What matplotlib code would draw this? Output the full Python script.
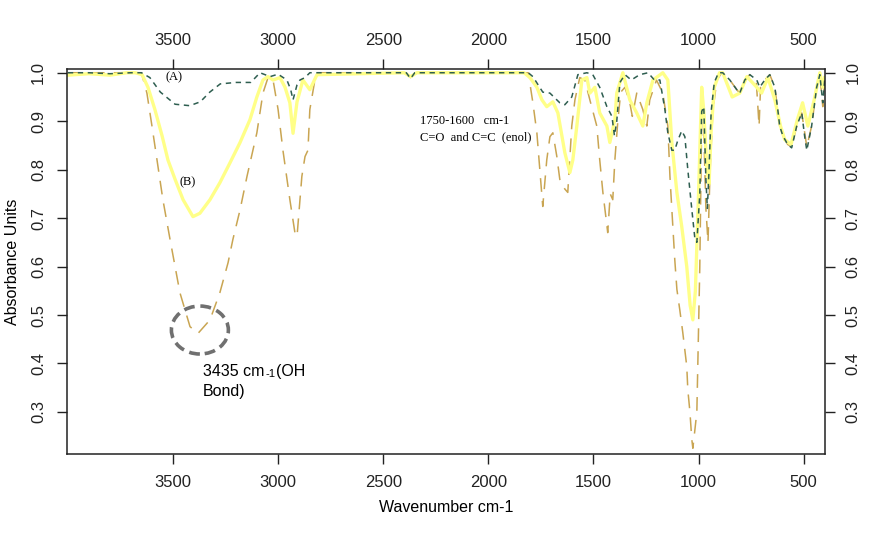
import numpy as np
import matplotlib
matplotlib.use("Agg")
import matplotlib.pyplot as plt
from matplotlib.patches import Ellipse
from matplotlib.transforms import offset_copy

# Spectrum (A): dark dashed
wn_a = [4000, 3900, 3800, 3700, 3650, 3610, 3560, 3490, 3420, 3370, 3325, 3275,
        3200, 3130, 3086, 3038, 3000, 2958, 2940, 2929, 2910, 2896, 2872, 2849,
        2500, 2390, 2370, 2350, 2000, 1810, 1788, 1741, 1707, 1660, 1636, 1603,
        1574, 1531, 1503, 1470, 1436, 1412, 1400, 1389, 1374, 1350, 1320, 1280,
        1240, 1210, 1184, 1160, 1146, 1127, 1113, 1099, 1080, 1065, 1051, 1032,
        1018, 1008, 994, 985, 975, 965, 958, 950, 940, 925, 905, 885, 851, 818,
        804, 780, 756, 723, 709, 685, 661, 637, 623, 614, 599, 576, 557, 533,
        509, 495, 485, 462, 438, 423, 409, 400]
abs_a = [1.0, 1.0, 0.998, 1.0, 1.0, 0.99, 0.96, 0.935, 0.932, 0.94, 0.96, 0.977,
         0.98, 0.98, 1.0, 0.992, 0.997, 0.985, 0.965, 0.944, 0.975, 0.985, 0.99, 1.0,
         1.0, 1.0, 0.988, 1.0, 1.0, 1.0, 0.992, 0.96, 0.958, 0.938, 0.934, 0.95,
         0.996, 1.0, 0.996, 0.97, 0.93, 0.91, 0.87, 0.90, 0.98, 0.996, 0.985, 0.996,
         1.0, 0.985, 0.985, 0.924, 0.876, 0.84, 0.84, 0.86, 0.88, 0.868, 0.80, 0.718,
         0.66, 0.65, 0.75, 0.92, 0.93, 0.78, 0.72, 0.80, 0.92, 0.98, 1.0, 1.0, 0.985, 0.965,
         0.958, 0.985, 0.996, 0.985, 0.97, 0.985, 0.996, 0.97, 0.924, 0.89, 0.87, 0.852, 0.845, 0.89,
         0.917, 0.868, 0.84, 0.89, 0.97, 0.996, 0.938, 0.985]

# Spectrum (B): yellow solid
wn_b = [4000, 3900, 3800, 3720, 3680, 3647, 3619, 3586, 3552, 3524, 3490, 3452,
        3405, 3372, 3324, 3277, 3229, 3181, 3134, 3101, 3072, 3048, 3024, 2991,
        2967, 2944, 2929, 2910, 2882, 2849, 2815, 2400, 2370, 2340, 1830, 1802,
        1769, 1745, 1722, 1693, 1669, 1636, 1612, 1598, 1579, 1555, 1531, 1517,
        1493, 1470, 1436, 1422, 1398, 1389, 1360, 1327, 1294, 1265, 1246, 1217,
        1170, 1146, 1127, 1103, 1080, 1056, 1040, 1027, 1015, 1000, 985, 975,
        960, 950, 940, 925, 900, 885, 840, 804, 770, 723, 700, 670, 637, 610,
        590, 560, 530, 505, 480, 450, 423, 409, 400]
abs_b = [0.995, 0.998, 0.995, 1.0, 1.0, 0.996, 0.97, 0.924, 0.87, 0.82, 0.78, 0.738,
         0.703, 0.71, 0.738, 0.773, 0.814, 0.856, 0.903, 0.95, 0.985, 0.992, 0.985, 0.99,
         0.97, 0.938, 0.875, 0.94, 0.985, 0.965, 0.996, 1.0, 0.992, 1.0, 1.0, 0.99,
         0.97, 0.944, 0.93, 0.94, 0.917, 0.835, 0.794, 0.82, 0.89, 0.985, 0.99, 0.958,
         0.97, 0.917, 0.89, 0.856, 0.903, 0.958, 1.0, 0.944, 0.917, 0.89, 0.938, 0.985,
         1.0, 0.985, 0.856, 0.753, 0.683, 0.60, 0.52, 0.49, 0.55, 0.75, 0.97, 0.92,
         0.80, 0.77, 0.88, 0.97, 1.0, 1.0, 0.95, 0.958, 0.992, 0.97, 0.958, 0.99, 0.944, 0.89,
         0.862, 0.852, 0.903, 0.938, 0.89, 0.944, 1.0, 0.97, 0.99]

# Spectrum (C): tan long dashes
wn_c = [4000, 3900, 3800, 3700, 3650, 3624, 3600, 3576, 3548, 3514, 3467, 3419,
        3381, 3324, 3277, 3238, 3215, 3181, 3148, 3101, 3072, 3048, 3024, 3000,
        2977, 2944, 2920, 2910, 2887, 2872, 2858, 2849, 2825, 2810, 2400, 2370,
        2340, 1830, 1810, 1788, 1769, 1755, 1741, 1722, 1707, 1693, 1674, 1660,
        1636, 1622, 1603, 1588, 1565, 1541, 1517, 1484, 1470, 1455, 1441, 1432,
        1420, 1408, 1398, 1384, 1370, 1350, 1327, 1315, 1294, 1265, 1246, 1232,
        1200, 1170, 1146, 1136, 1127, 1113, 1103, 1089, 1075, 1056, 1051, 1041,
        1032, 1027, 1008, 994, 985, 975, 965, 955, 945, 932, 913, 889, 851, 818,
        804, 780, 756, 725, 712, 705, 685, 661, 637, 614, 599, 576, 557, 533,
        509, 485, 462, 438, 423, 409, 400]
abs_c = [1.0, 1.0, 1.0, 1.0, 1.0, 0.958, 0.89, 0.82, 0.738, 0.656, 0.546, 0.476,
         0.462, 0.49, 0.546, 0.608, 0.656, 0.717, 0.786, 0.876, 0.958, 0.99, 0.985, 0.924,
         0.84, 0.738, 0.67, 0.662, 0.786, 0.827, 0.84, 0.924, 0.985, 1.0, 1.0, 0.99,
         1.0, 1.0, 1.0, 0.938, 0.876, 0.80, 0.724, 0.82, 0.868, 0.876, 0.827, 0.78,
         0.76, 0.753, 0.89, 0.944, 0.99, 0.985, 0.944, 0.89, 0.82, 0.753, 0.703, 0.67,
         0.75, 0.738, 0.82, 0.90, 0.96, 0.97, 0.938, 0.91, 0.958, 0.924, 0.89, 0.944,
         0.985, 0.958, 0.89, 0.786, 0.718, 0.614, 0.553, 0.51, 0.464, 0.394, 0.346, 0.30,
         0.243, 0.225, 0.30, 0.60, 0.90, 0.88, 0.72, 0.65, 0.80, 0.92, 0.985, 1.0, 0.985, 0.965,
         0.958, 0.985, 0.996, 0.98, 0.89, 0.97, 0.985, 0.996, 0.97, 0.89, 0.87, 0.852, 0.847, 0.89,
         0.917, 0.847, 0.89, 0.97, 0.996, 0.93, 0.985]

x_ticks = [3500, 3000, 2500, 2000, 1500, 1000, 500]
y_ticks = [0.3, 0.4, 0.5, 0.6, 0.7, 0.8, 0.9, 1.0]

plt.rcParams['font.family'] = ['Liberation Sans', 'DejaVu Sans']

fig = plt.figure(figsize=(8.82, 5.38), dpi=100)
ax = fig.add_axes([0.076, 0.156, 0.859, 0.716])

ax.plot(wn_c, abs_c, color='#c9a552', lw=1.1, dashes=(9, 6))
ax.plot(wn_b, abs_b, color='#ffff88', lw=2.4)
ax.plot(wn_a, abs_a, color='#2e5e50', lw=1.1, dashes=(3.5, 3))

ax.set_xlim(4004, 400)
ax.set_ylim(0.213, 1.008)
ax.set_xticks(x_ticks)
ax.set_yticks(y_ticks)
ax.set_yticklabels(['%.1f' % v for v in y_ticks])

ax.tick_params(direction='out', length=7, width=1, labelsize=12,
               top=True, right=True, labeltop=True, labelright=True,
               colors='#222222', pad=8)
ax.tick_params(axis='y', labelrotation=90)
for lab in ax.get_yticklabels():
    lab.set_va('center')
for sp in ax.spines.values():
    sp.set_linewidth(1.1)
    sp.set_color('#222222')

ax.set_xlabel('Wavenumber cm-1', fontsize=11.5, labelpad=7)
ax.set_ylabel('Absorbance Units', fontsize=11.5, labelpad=8)

serif = ['Liberation Serif', 'DejaVu Serif']
ax.text(3495, 0.99, '(A)', family=serif, fontsize=9, ha='center', va='center')
ax.text(3429, 0.773, '(B)', family=serif, fontsize=9, ha='center', va='center')
ax.text(2325, 0.901, '1750-1600   cm-1', family=serif, fontsize=9, va='center')
ax.text(2325, 0.866, 'C=O  and C=C  (enol)', family=serif, fontsize=9, va='center')

ax.add_patch(Ellipse((3372, 0.469), 271, 0.099, fill=False, ec='#707070',
                     lw=2.6, ls=(0, (3, 1.6))))

# "3435 cm-1(OH" with a small "-1", pieces placed one after another
fig.canvas.draw()
r = fig.canvas.get_renderer()
t1 = ax.text(3357, 0.374, '3435 cm', fontsize=11.5, va='baseline')
w1 = t1.get_window_extent(r).width * 72 / fig.dpi
t2 = ax.text(3357, 0.374, '-1', fontsize=8, va='baseline',
             transform=offset_copy(ax.transData, fig=fig, x=w1 + 0.5, y=-1, units='points'))
w2 = t2.get_window_extent(r).width * 72 / fig.dpi
ax.text(3357, 0.374, '(OH', fontsize=11.5, va='baseline',
        transform=offset_copy(ax.transData, fig=fig, x=w1 + w2 + 1, y=0, units='points'))
ax.text(3357, 0.333, 'Bond)', fontsize=11.5, va='baseline')

fig.savefig('out.png', dpi=100, facecolor='white')
